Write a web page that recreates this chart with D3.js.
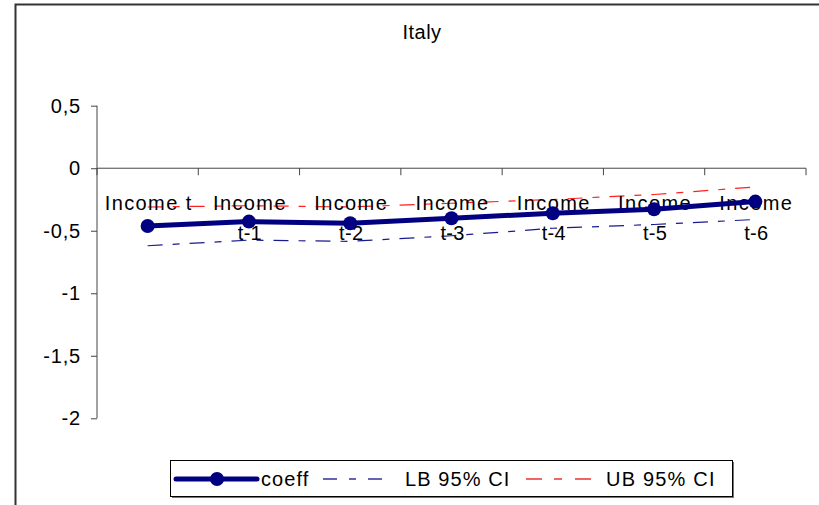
<!DOCTYPE html>
<html>
<head>
<meta charset="utf-8">
<script src="https://cdn.jsdelivr.net/npm/d3@7"></script>
<style>
  body { margin: 0; background: #fff; }
  text { font-family: "Liberation Sans", Arial, sans-serif; fill: #000; }
</style>
</head>
<body>
<div id="chart"></div>
<script>
var categories = ["Income t", "Income t-1", "Income t-2", "Income t-3", "Income t-4", "Income t-5", "Income t-6"];
var coeff = [-0.462, -0.427, -0.44, -0.40, -0.36, -0.328, -0.267];
var lb = [-0.62, -0.575, -0.585, -0.54, -0.48, -0.45, -0.41];
var ub = [-0.31, -0.30, -0.31, -0.28, -0.25, -0.21, -0.15];
var yTicks = [0.5, 0, -0.5, -1, -1.5, -2];
var seriesNames = ["coeff", "LB 95% CI", "UB 95% CI"];

var width = 819, height = 505;
var plot = { left: 97, right: 806, top: 105.7, bottom: 418.3 };

var svg = d3.select("#chart").append("svg")
  .attr("width", width).attr("height", height);

// outer frame (only top and left visible)
svg.append("path")
  .attr("d", "M15.5,505 L15.5,4.5 L819,4.5")
  .attr("fill", "none").attr("stroke", "#333").attr("stroke-width", 2);

svg.append("text").attr("x", 422).attr("y", 39)
  .attr("text-anchor", "middle").style("font-size", "20px")
  .style("letter-spacing", "0.5px").text("Italy");

var x = d3.scaleBand().domain(categories).range([plot.left, plot.right]);
var y = d3.scaleLinear().domain([-2, 0.5]).range([plot.bottom, plot.top]);

// y axis
var yAxis = svg.append("g").attr("transform", `translate(${plot.left},0)`)
  .call(d3.axisLeft(y).tickValues(yTicks).tickSize(6).tickPadding(10)
    .tickFormat(d => String(d).replace(".", ",")));
yAxis.select(".domain").attr("stroke", "#444").attr("d", `M0,${plot.top}V${plot.bottom}`);
yAxis.selectAll(".tick line").attr("stroke", "#444");
yAxis.selectAll(".tick text").style("font-size", "20px").style("letter-spacing", "0.8px")
  .style("font-family", "Liberation Sans, Arial, sans-serif").attr("fill", "#000");

// x axis at y=0
var xAxis = svg.append("g").attr("transform", `translate(0,${y(0)})`);
xAxis.append("line").attr("x1", plot.left).attr("x2", plot.right)
  .attr("stroke", "#444");
var xTickPos = categories.map(c => x(c)).concat([plot.right]);
xAxis.selectAll(".xt").data(xTickPos).enter().append("line")
  .attr("x1", d => d).attr("x2", d => d).attr("y1", 0).attr("y2", 7)
  .attr("stroke", "#444");

var cx = c => x(c) + x.bandwidth() / 2;

// CI lines
var line = d3.line().x((d, i) => cx(categories[i])).y(d => y(d));
svg.append("path").datum(lb).attr("d", line)
  .attr("fill", "none").attr("stroke", "#1a1a90").attr("stroke-width", 1.2)
  .attr("stroke-dasharray", "15,10,7,10");
svg.append("path").datum(ub).attr("d", line)
  .attr("fill", "none").attr("stroke", "#ff2020").attr("stroke-width", 1.2)
  .attr("stroke-dasharray", "15,10,7,10");

// category labels
var labels = svg.append("g");
categories.forEach(function (c) {
  var parts = c === "Income t" ? [c] : ["Income", c.replace("Income ", "")];
  parts.forEach(function (p, j) {
    labels.append("text").attr("x", cx(c) + 1).attr("y", 209.5 + j * 30)
      .attr("text-anchor", "middle").style("font-size", "20px")
      .style("letter-spacing", j === 0 ? "1.4px" : "0.3px").text(p);
  });
});

// coeff line
svg.append("path").datum(coeff).attr("d", line)
  .attr("fill", "none").attr("stroke", "#000080").attr("stroke-width", 5)
  .attr("stroke-linejoin", "round");
svg.selectAll(".pt").data(coeff).enter().append("circle")
  .attr("cx", (d, i) => cx(categories[i])).attr("cy", d => y(d))
  .attr("r", 7).attr("fill", "#000080");

// legend
var lg = svg.append("g");
lg.append("rect").attr("x", 172).attr("y", 462).attr("width", 562).attr("height", 36)
  .attr("fill", "#777");
lg.append("rect").attr("x", 170.5).attr("y", 460.5).attr("width", 562).attr("height", 36)
  .attr("fill", "#fff").attr("stroke", "#000");
var ly = 479;
lg.append("line").attr("x1", 176).attr("x2", 257).attr("y1", ly).attr("y2", ly)
  .attr("stroke", "#000080").attr("stroke-width", 5).attr("stroke-linecap", "round");
lg.append("circle").attr("cx", 217).attr("cy", ly).attr("r", 7).attr("fill", "#000080");
lg.append("text").attr("x", 261).attr("y", ly + 7).style("font-size", "20px")
  .style("letter-spacing", "1.1px").text(seriesNames[0]);
lg.append("line").attr("x1", 323).attr("x2", 391).attr("y1", ly).attr("y2", ly)
  .attr("stroke", "#6464b4").attr("stroke-width", 1.8).attr("stroke-dasharray", "14,12,7,12");
lg.append("text").attr("x", 405).attr("y", ly + 7).style("font-size", "20px")
  .style("letter-spacing", "1.1px").text(seriesNames[1]);
lg.append("line").attr("x1", 526).attr("x2", 602).attr("y1", ly).attr("y2", ly)
  .attr("stroke", "#f06464").attr("stroke-width", 1.8).attr("stroke-dasharray", "16,12,8,13");
lg.append("text").attr("x", 606).attr("y", ly + 7).style("font-size", "20px")
  .style("letter-spacing", "1.2px").text(seriesNames[2]);
</script>
</body>
</html>
